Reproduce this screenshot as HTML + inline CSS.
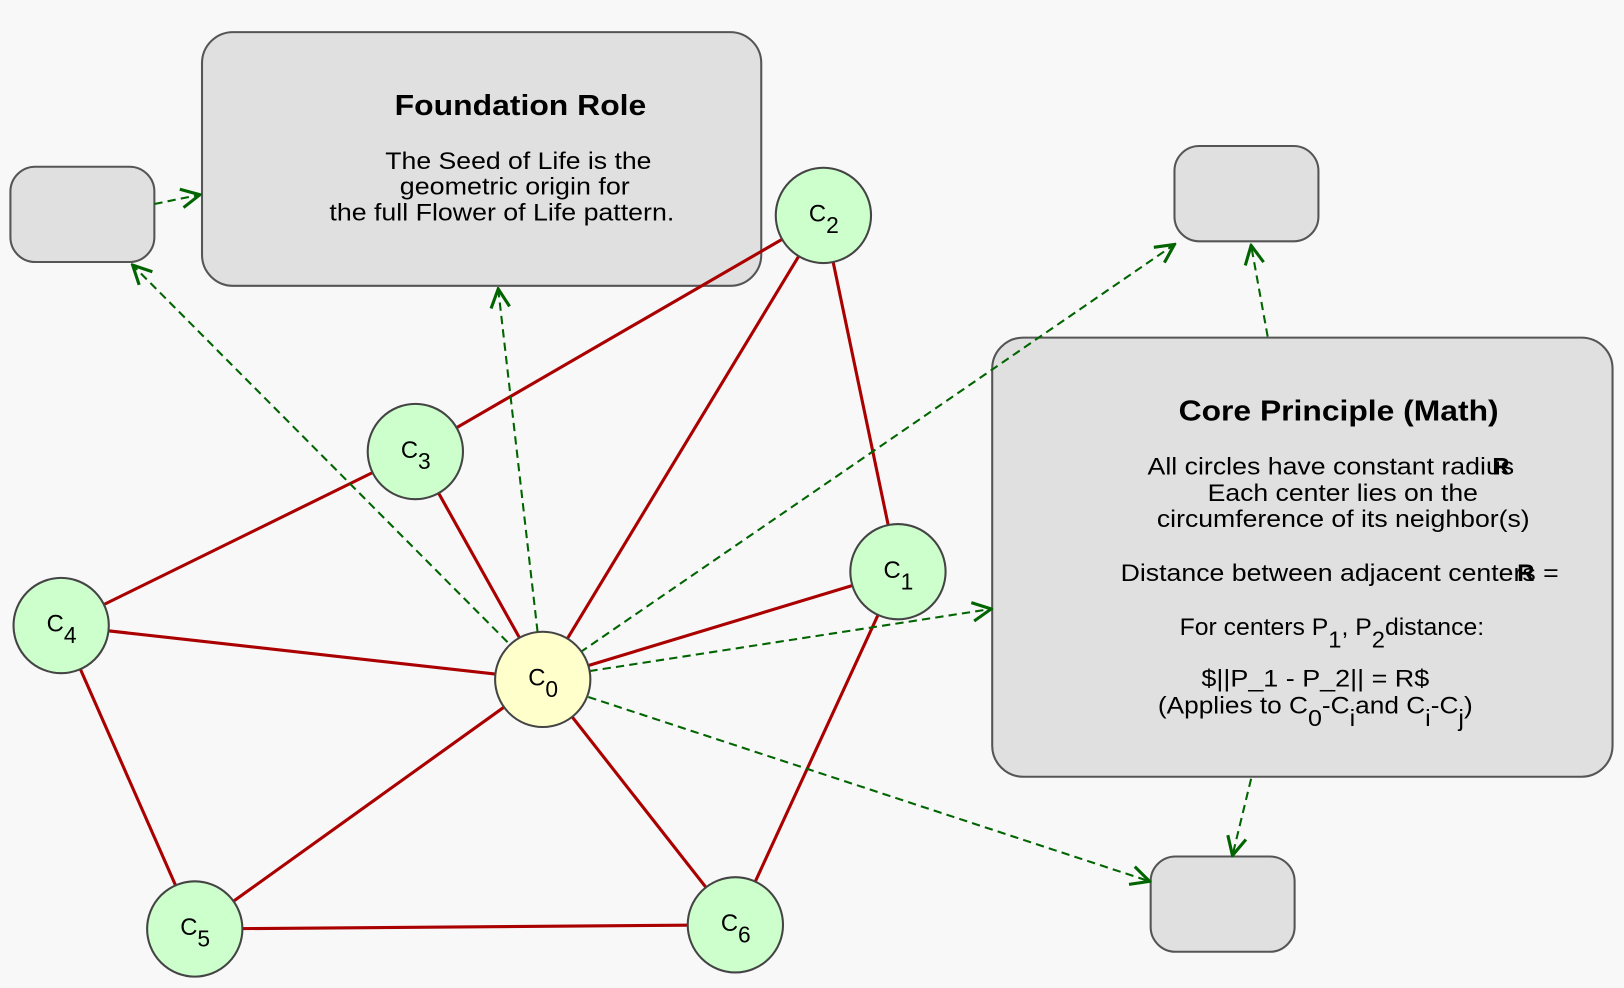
<!DOCTYPE html>
<html><head><meta charset="utf-8"><style>
html,body{margin:0;padding:0;background:#f8f8f8;}
svg{display:block;}
text{font-family:"Liberation Sans",Arial,sans-serif;fill:#000;}
</style></head><body>
<svg width="1624" height="988" viewBox="0 0 1568 954" xmlns="http://www.w3.org/2000/svg">
<defs>
<marker id="b" viewBox="0 0 24 24" refX="22" refY="12" markerWidth="24" markerHeight="24" markerUnits="userSpaceOnUse" orient="auto">
<path d="M4,3 L22,12 L4,21" fill="none" stroke="#006400" stroke-width="3"/>
</marker>
</defs>
<rect width="1568" height="954" fill="#f8f8f8"/>
<rect x="195" y="31" width="540" height="245" rx="30" fill="#e0e0e0" stroke="#555" stroke-width="2"/>
<rect x="10" y="161" width="139" height="92" rx="24" fill="#e0e0e0" stroke="#555" stroke-width="2"/>
<rect x="1134" y="141" width="139" height="92" rx="24" fill="#e0e0e0" stroke="#555" stroke-width="2"/>
<rect x="1111" y="827" width="139" height="92" rx="24" fill="#e0e0e0" stroke="#555" stroke-width="2"/>
<rect x="958" y="326" width="599" height="424" rx="30" fill="#e0e0e0" stroke="#555" stroke-width="2"/>
<g stroke="#aa0000" stroke-width="3">
<line x1="401" y1="436" x2="795" y2="208"/>
<line x1="524" y1="656" x2="795" y2="208"/>
<line x1="867" y1="552" x2="795" y2="208"/>
<line x1="524" y1="656" x2="401" y2="436"/>
<line x1="59" y1="604" x2="401" y2="436"/>
<line x1="59" y1="604" x2="524" y2="656"/>
<line x1="59" y1="604" x2="188" y2="897"/>
<line x1="188" y1="897" x2="524" y2="656"/>
<line x1="188" y1="897" x2="710" y2="893"/>
<line x1="710" y1="893" x2="524" y2="656"/>
<line x1="710" y1="893" x2="867" y2="552"/>
<line x1="867" y1="552" x2="524" y2="656"/>
</g>
<g stroke="#006400" stroke-width="2" stroke-dasharray="8,5" fill="none" marker-end="url(#b)">
<line x1="490" y1="620" x2="128" y2="256"/>
<line x1="519" y1="610" x2="481" y2="279"/>
<line x1="560" y1="630" x2="1134" y2="236"/>
<line x1="569" y1="648" x2="957" y2="588"/>
<line x1="568" y1="673" x2="1110" y2="851"/>
<line x1="1224" y1="325" x2="1208" y2="237"/>
<line x1="1208" y1="752" x2="1190" y2="826"/>
<line x1="149" y1="197" x2="193" y2="188"/>
</g>
<g stroke="#444" stroke-width="2">
<circle cx="524" cy="656" r="46" fill="#ffffcc"/>
<circle cx="867" cy="552" r="46" fill="#ccffcc"/>
<circle cx="795" cy="208" r="46" fill="#ccffcc"/>
<circle cx="401" cy="436" r="46" fill="#ccffcc"/>
<circle cx="59" cy="604" r="46" fill="#ccffcc"/>
<circle cx="188" cy="897" r="46" fill="#ccffcc"/>
<circle cx="710" cy="893" r="46" fill="#ccffcc"/>
</g>
<g font-size="23">
<text x="510" y="662">C<tspan font-size="22" dy="11">0</tspan></text>
<text x="853" y="558">C<tspan font-size="22" dy="11">1</tspan></text>
<text x="781" y="214">C<tspan font-size="22" dy="11">2</tspan></text>
<text x="387" y="442">C<tspan font-size="22" dy="11">3</tspan></text>
<text x="45" y="610">C<tspan font-size="22" dy="11">4</tspan></text>
<text x="174" y="903">C<tspan font-size="22" dy="11">5</tspan></text>
<text x="696" y="899">C<tspan font-size="22" dy="11">6</tspan></text>
</g>
<text x="381" y="111" font-size="28" font-weight="bold" textLength="243" lengthAdjust="spacingAndGlyphs">Foundation Role</text>
<g font-size="23">
<text x="372" y="163" textLength="257" lengthAdjust="spacingAndGlyphs">The Seed of Life is the</text>
<text x="386" y="188" textLength="222" lengthAdjust="spacingAndGlyphs">geometric origin for</text>
<text x="318" y="213" textLength="333" lengthAdjust="spacingAndGlyphs">the full Flower of Life pattern.</text>
</g>
<text x="1138" y="406" font-size="28" font-weight="bold" textLength="309" lengthAdjust="spacingAndGlyphs">Core Principle (Math)</text>
<g font-size="23">
<text x="1108" y="458" textLength="354" lengthAdjust="spacingAndGlyphs">All circles have constant radius</text>
<text x="1441" y="458" font-weight="bold">R</text>
<text x="1166" y="484" textLength="261" lengthAdjust="spacingAndGlyphs">Each center lies on the</text>
<text x="1117" y="509" textLength="360" lengthAdjust="spacingAndGlyphs">circumference of its neighbor(s)</text>
<text x="1082" y="561" textLength="423" lengthAdjust="spacingAndGlyphs">Distance between adjacent centers =</text>
<text x="1465" y="561" font-weight="bold">R</text>
<text x="1139" y="613" textLength="294" lengthAdjust="spacingAndGlyphs">For centers P<tspan dy="12" font-size="22">1</tspan><tspan dy="-12">, P</tspan><tspan dy="12" font-size="22">2</tspan><tspan dy="-12">distance:</tspan></text>
<text x="1160" y="663" textLength="220" lengthAdjust="spacingAndGlyphs">$||P_1 - P_2|| = R$</text>
<text x="1118" y="689" textLength="304" lengthAdjust="spacingAndGlyphs">(Applies to C<tspan dy="12" font-size="22">0</tspan><tspan dy="-12">-C</tspan><tspan dy="12" font-size="22">i</tspan><tspan dy="-12">and C</tspan><tspan dy="12" font-size="22">i</tspan><tspan dy="-12">-C</tspan><tspan dy="12" font-size="22">j</tspan><tspan dy="-12">)</tspan></text>
</g>
</svg>
</body></html>
